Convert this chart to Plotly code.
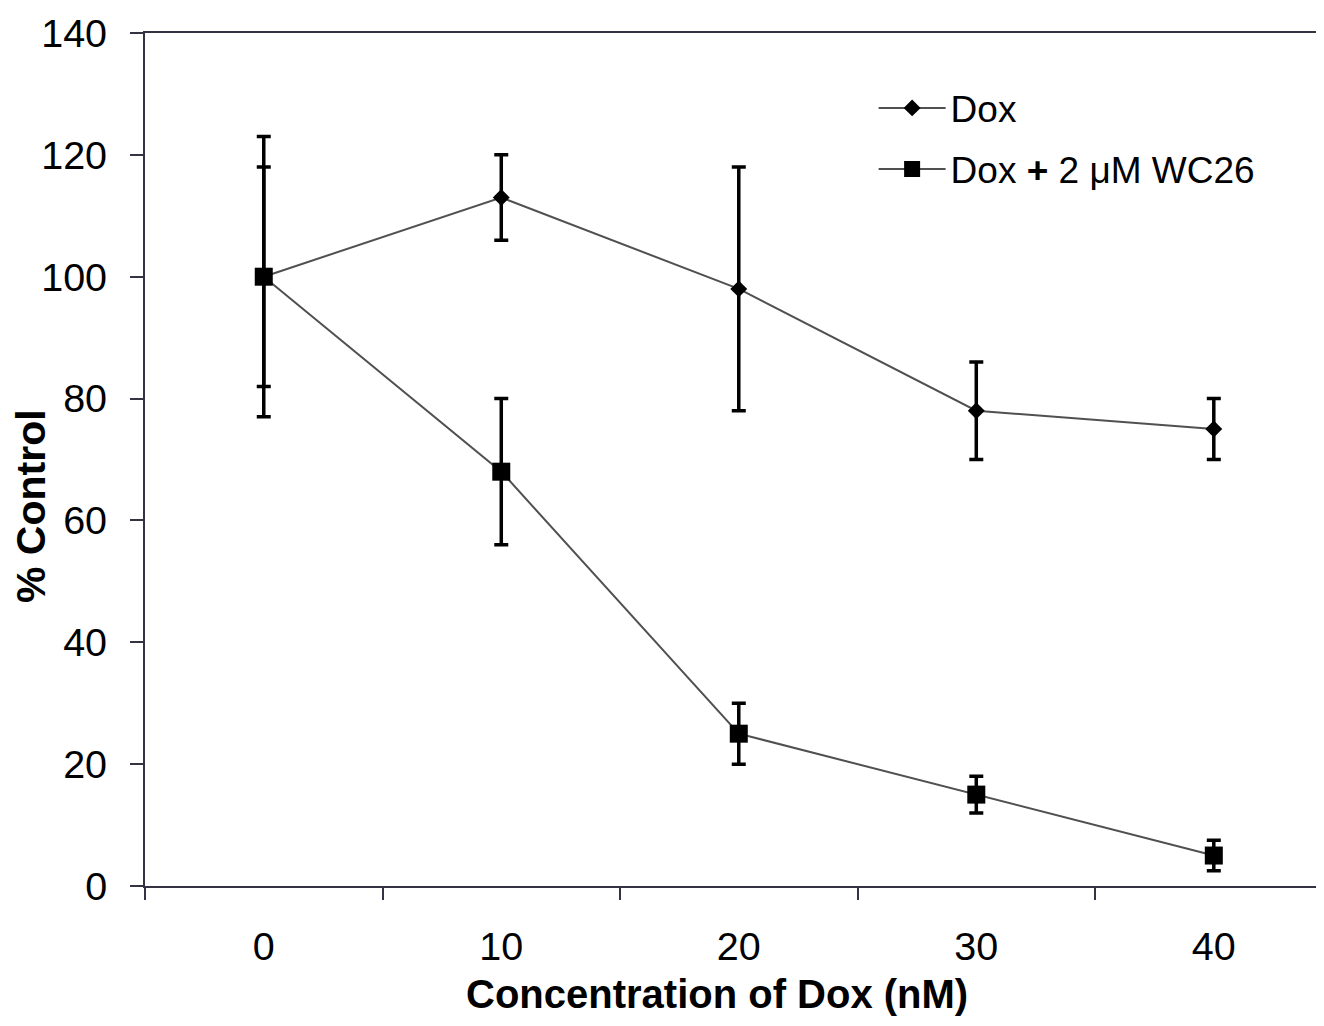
import plotly.graph_objects as go

conc = ["0", "10", "20", "30", "40"]
dox = [100, 113, 98, 78, 75]
dox_err = [23, 7, 20, 8, 5]
wc26 = [100, 68, 25, 15, 5]
wc26_err = [18, 12, 5, 3, 2.5]

FONT = "Liberation Sans, Arial, sans-serif"
AX = "#333344"
LINE = "#505050"

fig = go.Figure()
fig.add_trace(go.Scatter(
    x=conc, y=dox, name="Dox", mode="lines+markers",
    line=dict(color=LINE, width=2),
    marker=dict(symbol="diamond", size=13, color="black"),
    error_y=dict(type="data", array=dox_err, color="black", thickness=3.5, width=7),
    legendgroup="a",
))
fig.add_trace(go.Scatter(
    x=conc, y=wc26, name="Dox <b>+</b> 2 μM WC26", mode="lines+markers",
    line=dict(color=LINE, width=2),
    marker=dict(symbol="square", size=18, color="black"),
    error_y=dict(type="data", array=wc26_err, color="black", thickness=3.5, width=7),
    legendgroup="b",
))

fig.update_layout(
    width=1316, height=1010,
    margin=dict(l=137, r=0, t=25, b=132),
    paper_bgcolor="white", plot_bgcolor="white",
    font=dict(family=FONT, color="black"),
    legend=dict(
        x=0.618, y=0.948, xanchor="left", yanchor="top",
        font=dict(size=37, family=FONT, color="black"),
        bgcolor="rgba(0,0,0,0)", itemwidth=67,
        traceorder="grouped", tracegroupgap=10,
    ),
    xaxis=dict(
        type="category", range=[-0.5, 4.464], tickson="boundaries",
        ticks="outside", ticklen=12, tickwidth=2, tickcolor=AX,
        showline=True, linecolor=AX, linewidth=2, mirror=True,
        showgrid=False, zeroline=False,
        tickfont=dict(size=39.5, family=FONT, color="black"),
        ticklabelstandoff=25,
    ),
    yaxis=dict(
        range=[0, 140], dtick=20, tick0=0,
        ticks="outside", ticklen=13, tickwidth=2, tickcolor=AX,
        showline=True, linecolor=AX, linewidth=2,
        showgrid=False, zeroline=False,
        tickfont=dict(size=39.5, family=FONT, color="black"),
        ticklabelstandoff=15,
    ),
    annotations=[
        dict(text="<b>Concentration of Dox (nM)</b>", xref="paper", yref="paper",
             x=0.485, y=-0.1265, xanchor="center", yanchor="middle", showarrow=False,
             font=dict(size=40, family=FONT, color="black")),
        dict(text="<b>% Control</b>", xref="paper", yref="paper",
             x=-0.0967, y=0.4455, xanchor="center", yanchor="middle", showarrow=False,
             textangle=-90, font=dict(size=41, family=FONT, color="black")),
    ],
)

fig.write_html("out.html")
